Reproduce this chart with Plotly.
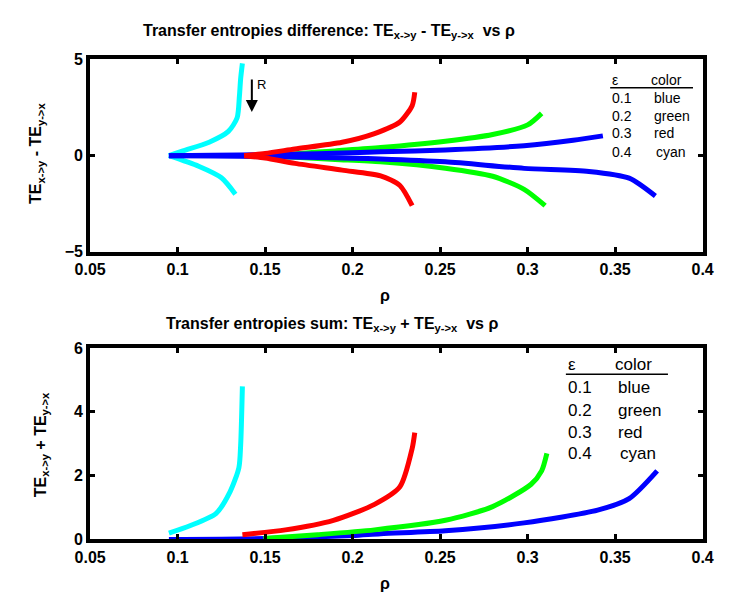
import plotly.graph_objects as go

W, H = 730, 598

# ---------------- data ----------------
eps_labels = ["0.1", "0.2", "0.3", "0.4"]
color_names = ["blue", "green", "red", "cyan"]
line_colors = ["#0000FF", "#00FF00", "#FF0000", "#00FFFF"]

# Difference TE_x->y - TE_y->x (upper and lower branches)
diff_blue_up_rho = [0.095, 0.12, 0.15, 0.18, 0.2, 0.216, 0.253, 0.298, 0.326, 0.343]
diff_blue_up_val = [0, 0.02, 0.05, 0.1, 0.15, 0.2, 0.3, 0.52, 0.8, 1.03]
diff_blue_lo_rho = [0.095, 0.12, 0.15, 0.18, 0.2, 0.216, 0.253, 0.298, 0.335, 0.358, 0.373]
diff_blue_lo_val = [0, -0.02, -0.05, -0.1, -0.13, -0.17, -0.32, -0.66, -0.82, -1.17, -2.1]

diff_green_up_rho = [0.149, 0.17, 0.19, 0.216, 0.253, 0.28, 0.30, 0.308]
diff_green_up_val = [0, 0.12, 0.25, 0.42, 0.75, 1.1, 1.6, 2.2]
diff_green_lo_rho = [0.149, 0.17, 0.19, 0.216, 0.253, 0.28, 0.298, 0.310]
diff_green_lo_val = [0, -0.1, -0.2, -0.32, -0.65, -1.07, -1.75, -2.6]

diff_red_up_rho = [0.138, 0.15, 0.167, 0.194, 0.2125, 0.227, 0.234, 0.2355]
diff_red_up_val = [0, 0.12, 0.35, 0.7, 1.15, 1.75, 2.6, 3.3]
diff_red_lo_rho = [0.138, 0.15, 0.167, 0.194, 0.216, 0.227, 0.234]
diff_red_lo_val = [0, -0.12, -0.4, -0.75, -1.05, -1.55, -2.6]

diff_cyan_up_rho = [0.095, 0.103, 0.118, 0.129, 0.134, 0.1353, 0.136, 0.137]
diff_cyan_up_val = [0, 0.25, 0.7, 1.26, 1.97, 3.1, 4.0, 4.8]
diff_cyan_lo_rho = [0.095, 0.112, 0.125, 0.133]
diff_cyan_lo_val = [0, -0.55, -1.15, -2.0]

# Sum TE_x->y + TE_y->x
sum_blue_rho = [0.095, 0.15, 0.2, 0.216, 0.253, 0.298, 0.34, 0.358, 0.374]
sum_blue_val = [0, 0.03, 0.12, 0.18, 0.27, 0.52, 0.92, 1.28, 2.15]
sum_green_rho = [0.149, 0.18, 0.2125, 0.253, 0.28, 0.302, 0.308, 0.311]
sum_green_val = [0.03, 0.15, 0.3, 0.6, 1.03, 1.73, 2.15, 2.7]
sum_red_rho = [0.137, 0.1616, 0.189, 0.2125, 0.227, 0.234, 0.2355]
sum_red_val = [0.15, 0.3, 0.6, 1.1, 1.65, 2.85, 3.35]
sum_cyan_rho = [0.095, 0.107, 0.122, 0.130, 0.135, 0.136, 0.137]
sum_cyan_val = [0.2, 0.43, 0.82, 1.5, 2.25, 2.95, 4.8]

x_ticks = [0.05, 0.1, 0.15, 0.2, 0.25, 0.3, 0.35, 0.4]
x_ticklabels = ["0.05", "0.1", "0.15", "0.2", "0.25", "0.3", "0.35", "0.4"]
y1_ticks = [-5, 0, 5]
y2_ticks = [0, 2, 4, 6]

# ---------------- figure ----------------
LW = 5
fig = go.Figure()

def add(rho, val, color, xa, ya):
    fig.add_trace(go.Scatter(x=rho, y=val, mode="lines", xaxis=xa, yaxis=ya,
                             line=dict(color=color, width=LW, shape="spline", smoothing=0.7),
                             showlegend=False, hoverinfo="skip"))

# top panel (order: cyan, green, blue, red)
add(diff_cyan_up_rho, diff_cyan_up_val, line_colors[3], "x", "y")
add(diff_cyan_lo_rho, diff_cyan_lo_val, line_colors[3], "x", "y")
add(diff_green_up_rho, diff_green_up_val, line_colors[1], "x", "y")
add(diff_green_lo_rho, diff_green_lo_val, line_colors[1], "x", "y")
add(diff_blue_up_rho, diff_blue_up_val, line_colors[0], "x", "y")
add(diff_blue_lo_rho, diff_blue_lo_val, line_colors[0], "x", "y")
add(diff_red_up_rho, diff_red_up_val, line_colors[2], "x", "y")
add(diff_red_lo_rho, diff_red_lo_val, line_colors[2], "x", "y")

# bottom panel
add(sum_blue_rho, sum_blue_val, line_colors[0], "x2", "y2")
add(sum_green_rho, sum_green_val, line_colors[1], "x2", "y2")
add(sum_red_rho, sum_red_val, line_colors[2], "x2", "y2")
add(sum_cyan_rho, sum_cyan_val, line_colors[3], "x2", "y2")

px = lambda p: p / W
py = lambda p: 1 - p / H

tickfont = dict(family="Liberation Sans, Arial", size=16, color="black", weight="bold")
axis_common = dict(showline=True, linewidth=4, linecolor="black", mirror="ticks",
                   ticks="inside", ticklen=5, tickwidth=3, tickcolor="black",
                   showgrid=False, zeroline=False, tickfont=tickfont)

xdom = [px(77), px(713)]
fig.update_layout(
    width=W, height=H, margin=dict(l=0, r=0, t=0, b=0),
    paper_bgcolor="white", plot_bgcolor="white",
    xaxis=dict(domain=xdom, range=[0.05, 0.4], tickvals=x_ticks, ticktext=x_ticklabels,
               anchor="y", **axis_common),
    yaxis=dict(domain=[py(251), py(53)], range=[-5, 5], tickvals=y1_ticks,
               anchor="x", **axis_common),
    xaxis2=dict(domain=xdom, range=[0.05, 0.4], tickvals=x_ticks, ticktext=x_ticklabels,
                anchor="y2", **axis_common),
    yaxis2=dict(domain=[py(547), py(350)], range=[0, 6], tickvals=y2_ticks,
                anchor="x2", **axis_common),
)

title_font = dict(family="Liberation Sans Narrow, Arial Narrow, Liberation Sans", size=16,
                  color="black", weight="bold")
lab_font = dict(family="Liberation Sans, Arial", size=16, color="black", weight="bold")
ann = []
ann.append(dict(text="Transfer entropies difference: TE<sub>x-&gt;y</sub> - TE<sub>y-&gt;x</sub>  vs ρ",
                x=px(325), y=py(24), xref="paper", yref="paper", showarrow=False,
                font=title_font, xanchor="center", yanchor="middle"))
ann.append(dict(text="Transfer entropies sum: TE<sub>x-&gt;y</sub> + TE<sub>y-&gt;x</sub>  vs ρ",
                x=px(328), y=py(326), xref="paper", yref="paper", showarrow=False,
                font=title_font, xanchor="center", yanchor="middle"))
ann.append(dict(text="ρ", x=px(383), y=py(296), xref="paper", yref="paper", showarrow=False,
                font=lab_font, xanchor="center", yanchor="middle"))
ann.append(dict(text="ρ", x=px(383), y=py(592), xref="paper", yref="paper", showarrow=False,
                font=lab_font, xanchor="center", yanchor="middle"))
ann.append(dict(text="TE<sub>x-&gt;y</sub> - TE<sub>y-&gt;x</sub>", x=px(22), y=py(150),
                xref="paper", yref="paper", showarrow=False, textangle=-90,
                font=lab_font, xanchor="center", yanchor="middle"))
ann.append(dict(text="TE<sub>x-&gt;y</sub> + TE<sub>y-&gt;x</sub>", x=px(26), y=py(450),
                xref="paper", yref="paper", showarrow=False, textangle=-90,
                font=lab_font, xanchor="center", yanchor="middle"))

# arrow R
ann.append(dict(x=0.1424, y=2.27, xref="x", yref="y", ax=0, ay=-34, showarrow=True,
                arrowhead=2, arrowsize=1.2, arrowwidth=2, arrowcolor="black", text=""))
ann.append(dict(text="R", x=px(248), y=py(79), xref="paper", yref="paper", showarrow=False,
                font=dict(family="Liberation Sans, Arial", size=13, color="black"),
                xanchor="left", yanchor="middle"))

# legend tables
def legend_table(x_eps, x_col, y_head, row_ys, size, x_line_end, y_line):
    f = dict(family="Liberation Sans, Arial", size=size, color="black")
    ann.append(dict(text="ε", x=px(x_eps), y=py(y_head), xref="paper", yref="paper",
                    showarrow=False, font=f, xanchor="left", yanchor="middle"))
    ann.append(dict(text="color", x=px(x_col - 3), y=py(y_head), xref="paper", yref="paper",
                    showarrow=False, font=f, xanchor="left", yanchor="middle"))
    for e, c, yy in zip(eps_labels, color_names, row_ys):
        ann.append(dict(text=e, x=px(x_eps), y=py(yy), xref="paper", yref="paper",
                        showarrow=False, font=f, xanchor="left", yanchor="middle"))
        ann.append(dict(text=c, x=px(x_col + (2 if c == "cyan" else 0)), y=py(yy),
                        xref="paper", yref="paper", showarrow=False, font=f,
                        xanchor="left", yanchor="middle"))
    fig.add_shape(type="line", xref="paper", yref="paper", x0=px(x_eps), x1=px(x_line_end),
                  y0=py(y_line), y1=py(y_line), line=dict(color="black", width=1.5))

legend_table(617, 660, 74, [93, 111, 129, 148], 14, 703, 82)
legend_table(571, 623, 367, [391, 414, 437, 459], 17, 677, 377)

fig.update_layout(annotations=ann)
fig.write_html("out.html")
